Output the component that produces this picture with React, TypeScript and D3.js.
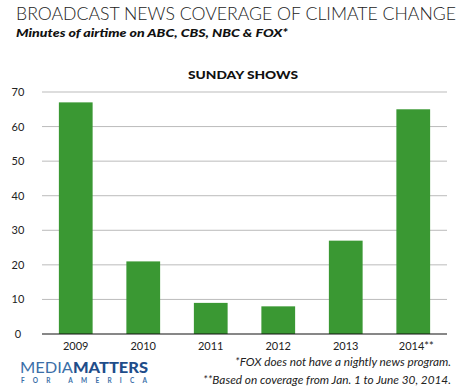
import React from "react";
import * as d3 from "d3";

const categories = ["2009", "2010", "2011", "2012", "2013", "2014**"];
const values = [67, 21, 9, 8, 27, 65];
const yTicks = [0, 10, 20, 30, 40, 50, 60, 70];

const W = 463;
const H = 390;
const FONT = "Lato, 'Open Sans', sans-serif";

export default function App() {
  const x = d3.scaleBand<string>().domain(categories).range([42, 447]).paddingInner(0.5).paddingOuter(0.25);
  const y = d3.scaleLinear().domain([0, 70]).range([334, 92]);

  return (
    <svg width={W} height={H} style={{ position: "absolute", left: 0, top: 0, background: "#fff" }}>
      <text x={16} y={20} fontFamily={FONT} fontSize={17} fontWeight={300} fill="#222" textLength={440} lengthAdjust="spacingAndGlyphs">
        BROADCAST NEWS COVERAGE OF CLIMATE CHANGE
      </text>
      <text x={16} y={37} fontFamily={FONT} fontSize={12} fontWeight={900} fontStyle="italic" fill="#111" textLength={272} lengthAdjust="spacingAndGlyphs">
        Minutes of airtime on ABC, CBS, NBC &amp; FOX*
      </text>
      <text x={243} y={79} fontFamily={FONT} fontSize={11.5} fontWeight={900} fill="#111" textAnchor="middle" textLength={110} lengthAdjust="spacingAndGlyphs">
        SUNDAY SHOWS
      </text>
      {yTicks.map((t) => (
        <g key={t}>
          {t > 0 && <line x1={42} x2={447} y1={y(t)} y2={y(t)} stroke="#bbb" strokeWidth={1} />}
          <text x={18} y={y(t) + 4} fontFamily={FONT} fontSize={11} fill="#222" textAnchor="middle">
            {t}
          </text>
        </g>
      ))}
      {categories.map((c, i) => (
        <rect key={c} x={x(c)} y={y(values[i])} width={x.bandwidth()} height={y(0) - y(values[i])} fill="#3a9833" />
      ))}
      <line x1={42} x2={447} y1={y(0)} y2={y(0)} stroke="#111" strokeWidth={1.2} />
      {categories.map((c) => (
        <text key={c} x={(x(c) as number) + x.bandwidth() / 2 + (c.length > 4 ? 3 : 0)} y={350} fontFamily={FONT} fontSize={11} fill="#222" textAnchor="middle">
          {c}
        </text>
      ))}
      <text x={20} y={373} fontFamily={FONT} fontSize={15} fill="#3b6fa8" textLength={128} lengthAdjust="spacingAndGlyphs">
        MEDIA<tspan fontWeight={900} fill="#1f4d8a">MATTERS</tspan>
      </text>
      <text x={21} y={383} fontFamily={FONT} fontSize={6.5} fontWeight={700} fill="#3b6fa8" textLength={126} lengthAdjust="spacing">
        FOR AMERICA
      </text>
      <text x={451} y={366} fontFamily={FONT} fontSize={11.5} fontStyle="italic" fill="#222" textAnchor="end" textLength={216} lengthAdjust="spacingAndGlyphs">
        *FOX does not have a nightly news program.
      </text>
      <text x={451} y={384} fontFamily={FONT} fontSize={11.5} fontStyle="italic" fill="#222" textAnchor="end" textLength={248} lengthAdjust="spacingAndGlyphs">
        **Based on coverage from Jan. 1 to June 30, 2014.
      </text>
    </svg>
  );
}
